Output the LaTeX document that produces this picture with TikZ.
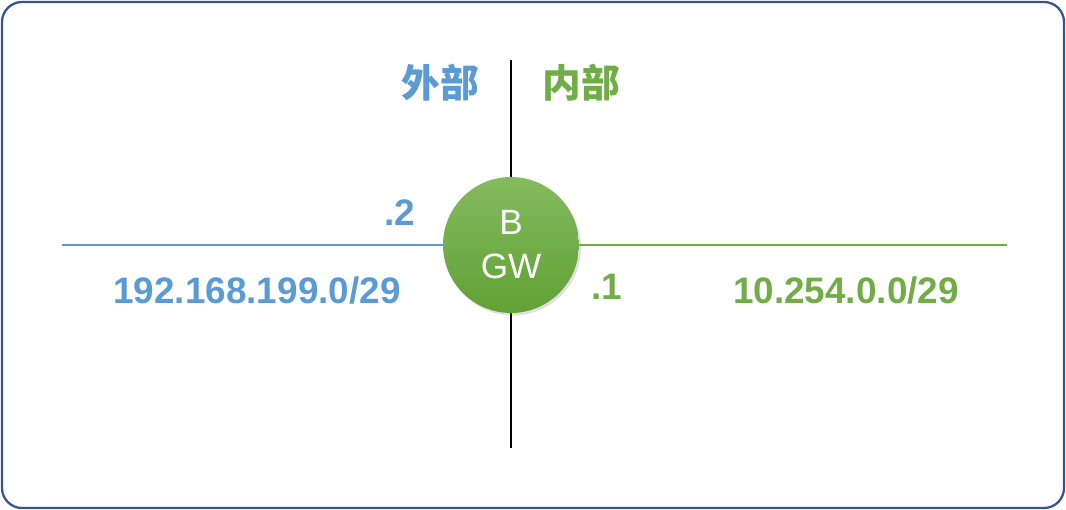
\documentclass[tikz,border=0pt]{standalone}
\usepackage{fontspec}
\setmainfont{Liberation Sans}
\newfontfamily\cjk{Noto Sans CJK SC}
\usepackage{tikz}
\usetikzlibrary{shadows}

\definecolor{outblue}{RGB}{91,155,213}
\definecolor{ingreen}{RGB}{112,173,71}
\definecolor{gwtop}{RGB}{132,187,94}
\definecolor{gwbottom}{RGB}{97,161,52}
\definecolor{framblue}{RGB}{52,86,150}

\tikzset{
    netlabel/.style={font=\fontsize{21}{25}\selectfont\bfseries},
    sidelabel/.style={font=\cjk\bfseries\fontsize{22}{26}\selectfont},
    gwnode/.style={circle,minimum size=2.72cm,inner sep=0pt,
        top color=gwtop,bottom color=gwbottom,
        text=white,align=center,font=\fontsize{20}{25}\selectfont,
        drop shadow={opacity=0.25,shadow xshift=0.04cm,shadow yshift=-0.05cm}}
}

\begin{document}
\begin{tikzpicture}[x=0.02cm,y=-0.02cm]
    \useasboundingbox (0,0) rectangle (1066,510);
    \draw[line width=1.3pt,framblue,rounded corners=0.4cm] (2,2) rectangle (1064,508);

    \coordinate (top) at (511,60);
    \coordinate (bottom) at (511,448);
    \coordinate (west) at (62,245);
    \coordinate (east) at (1007,245);

    \draw[line width=1.4pt,black] (top) -- (bottom);

    \node[gwnode] (gw) at (511,245) {B\\GW};

    \draw[line width=1.3pt,outblue] (west) -- (gw.west);
    \draw[line width=1.3pt,ingreen] (gw.east) -- (east);

    \node[sidelabel,text=outblue] (outside) at (440,83) {外部};
    \node[sidelabel,text=ingreen] (inside) at (581,83) {内部};

    \node[netlabel,text=outblue] (outhost) at (400,213) {.2};
    \node[netlabel,text=ingreen] (inhost) at (607,287) {.1};
    \node[netlabel,text=outblue] (outnet) at (257,291) {192.168.199.0/29};
    \node[netlabel,text=ingreen] (innet) at (846,291) {10.254.0.0/29};
\end{tikzpicture}
\end{document}
